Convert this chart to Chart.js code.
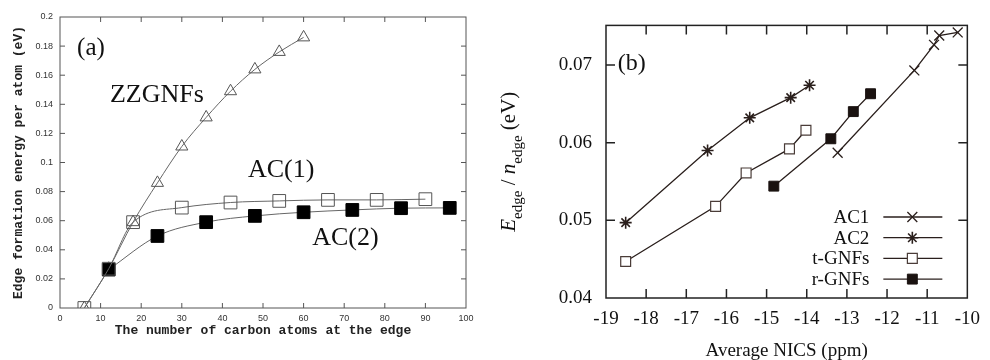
<!DOCTYPE html>
<html>
<head>
<meta charset="utf-8">
<script src="https://cdn.jsdelivr.net/npm/chart.js@4.4.0/dist/chart.umd.min.js"></script>
<style>
  body { margin: 0; background: #fff; width: 990px; height: 360px; overflow: hidden; position: relative; }
  canvas { position: absolute; top: 0; }
  #chartA { left: 0; }
  #chartB { left: 480px; }
</style>
</head>
<body>
<canvas id="chartA" width="480" height="360"></canvas>
<canvas id="chartB" width="510" height="360"></canvas>
<script>
// ---- panel (a): edge formation energy vs number of edge carbons
let zzX  = [6, 12, 18, 24, 30, 36, 42, 48, 54, 60];
let zzY  = [0, 0.027, 0.059, 0.086, 0.111, 0.131, 0.149, 0.164, 0.176, 0.186];
let ac1X = [6, 12, 18, 30, 42, 54, 66, 78, 90];
let ac1Y = [0, 0.027, 0.059, 0.069, 0.0725, 0.0736, 0.0743, 0.0743, 0.0748];
let ac2X = [12, 24, 36, 48, 60, 72, 84, 96];
let ac2Y = [0.0264, 0.0495, 0.059, 0.0633, 0.0658, 0.0674, 0.0686, 0.0688];
let labelsA = ['ZZGNFs', 'AC(1)', 'AC(2)'];

// ---- panel (b): edge energy vs average NICS
let nAc1X = [-13.23, -11.32, -10.83, -10.70, -10.24];
let nAc1Y = [0.0587, 0.0693, 0.0726, 0.0738, 0.0742];
let nAc2X = [-18.51, -16.47, -15.42, -14.40, -13.93];
let nAc2Y = [0.0497, 0.0590, 0.0632, 0.0658, 0.0674];
let nTX   = [-18.51, -16.27, -15.51, -14.43, -14.02];
let nTY   = [0.0447, 0.0518, 0.0561, 0.0592, 0.0616];
let nRX   = [-14.82, -13.40, -12.84, -12.41];
let nRY   = [0.0544, 0.0605, 0.0640, 0.0663];
let labelsB = ['AC1', 'AC2', 't-GNFs', 'r-GNFs'];

function pts(xs, ys) { return xs.map((x, i) => ({ x: x, y: ys[i] })); }
function fmt2(v) { return String(+Number(v).toFixed(3)); }

// box round the plot area with ticks pointing inwards on all four sides
function boxTicks(len, color, width) {
  return {
    id: 'boxTicks',
    beforeDatasetsDraw(chart) {
      const ctx = chart.ctx, a = chart.chartArea;
      const xs = chart.scales.x, ys = chart.scales.y;
      ctx.save();
      ctx.strokeStyle = color;
      ctx.lineWidth = width;
      ctx.beginPath();
      xs.ticks.forEach(t => {
        const px = xs.getPixelForValue(t.value);
        if (px <= a.left + 1 || px >= a.right - 1) return;
        ctx.moveTo(px, a.bottom); ctx.lineTo(px, a.bottom - len);
        ctx.moveTo(px, a.top); ctx.lineTo(px, a.top + len);
      });
      ys.ticks.forEach(t => {
        const py = ys.getPixelForValue(t.value);
        if (py <= a.top + 1 || py >= a.bottom - 1) return;
        ctx.moveTo(a.left, py); ctx.lineTo(a.left + len, py);
        ctx.moveTo(a.right, py); ctx.lineTo(a.right - len, py);
      });
      ctx.stroke();
      ctx.strokeRect(a.left, a.top, a.right - a.left, a.bottom - a.top);
      ctx.restore();
    }
  };
}

// free text placed at data coordinates
function notes(list) {
  return {
    id: 'notes',
    afterDatasetsDraw(chart) {
      const ctx = chart.ctx;
      ctx.save();
      ctx.fillStyle = '#111';
      ctx.textBaseline = 'alphabetic';
      list.forEach(n => {
        ctx.font = n.font;
        ctx.fillText(n.text, chart.scales.x.getPixelForValue(n.x), chart.scales.y.getPixelForValue(n.y));
      });
      ctx.restore();
    }
  };
}

const serif = '"Liberation Serif", "Times New Roman", serif';
const mono = '"Liberation Mono", "Courier New", monospace';

let chartA = new Chart(document.getElementById('chartA'), {
  type: 'scatter',
  data: {
    datasets: [
      { label: labelsA[1], data: pts(ac1X, ac1Y), showLine: true, cubicInterpolationMode: 'monotone',
        borderColor: '#666', borderWidth: 1, pointStyle: 'rect', pointRadius: 9,
        pointBackgroundColor: 'rgba(255,255,255,0)', pointBorderColor: '#555', pointBorderWidth: 1 },
      { label: labelsA[2], data: pts(ac2X, ac2Y), showLine: true, cubicInterpolationMode: 'monotone',
        borderColor: '#666', borderWidth: 1, pointStyle: 'rect', pointRadius: 9,
        pointBackgroundColor: '#000', pointBorderColor: '#000', pointBorderWidth: 1 },
      { label: labelsA[0], data: pts(zzX, zzY), showLine: true, cubicInterpolationMode: 'monotone',
        borderColor: '#666', borderWidth: 1, pointStyle: 'triangle', pointRadius: 7,
        pointBackgroundColor: 'rgba(255,255,255,0)', pointBorderColor: '#555', pointBorderWidth: 1 }
    ]
  },
  options: {
    responsive: false,
    animation: false,
    devicePixelRatio: 1,
    layout: { padding: { left: 0, right: 14, top: 17, bottom: 0 } },
    plugins: { legend: { display: false }, tooltip: { enabled: false } },
    scales: {
      x: {
        type: 'linear', min: 0, max: 100,
        grid: { display: false, drawTicks: false }, border: { display: false },
        ticks: { stepSize: 10, padding: 5, maxRotation: 0, color: '#333',
                 font: { family: '"Liberation Sans", Arial, sans-serif', size: 9 } },
        title: { display: true, text: 'The number of carbon atoms at the edge', color: '#222',
                 font: { family: mono, size: 13, weight: 'bold' },
                 padding: { top: 0, bottom: 21 } },
        afterFit(s) { s.height = 52; }
      },
      y: {
        type: 'linear', min: 0, max: 0.2,
        grid: { display: false, drawTicks: false }, border: { display: false },
        ticks: { stepSize: 0.02, padding: 7, color: '#333', callback: fmt2,
                 font: { family: '"Liberation Sans", Arial, sans-serif', size: 9 } },
        title: { display: true, text: 'Edge formation energy per atom (eV)', color: '#222',
                 font: { family: mono, size: 13, weight: 'bold' },
                 padding: { top: 11, bottom: 0 } },
        afterFit(s) { s.width = 60; }
      }
    }
  },
  plugins: [
    boxTicks(5, '#555', 1),
    notes([
      { text: '(a)', x: 4.2, y: 0.174, font: '25px ' + serif },
      { text: labelsA[0], x: 12.3, y: 0.1417, font: '26px ' + serif },
      { text: labelsA[1], x: 46.3, y: 0.0901, font: '26px ' + serif },
      { text: labelsA[2], x: 62.1, y: 0.0433, font: '26px ' + serif }
    ])
  ]
});

// legend of (b): text on the left, line sample with marker on the right
const legendB = {
  id: 'legendB',
  afterDatasetsDraw(chart) {
    const ctx = chart.ctx, a = chart.chartArea;
    chart.data.datasets.forEach((ds, i) => {
      const y = a.bottom - 81 + i * 20.7;
      ctx.save();
      ctx.font = '19px ' + serif;
      ctx.fillStyle = '#111';
      ctx.textAlign = 'right';
      ctx.textBaseline = 'middle';
      ctx.fillText(ds.label, a.right - 98, y + 1);
      ctx.strokeStyle = ds.borderColor;
      ctx.lineWidth = ds.borderWidth;
      ctx.beginPath();
      ctx.moveTo(a.right - 84, y);
      ctx.lineTo(a.right - 25, y);
      ctx.stroke();
      ctx.fillStyle = ds.pointBackgroundColor;
      ctx.strokeStyle = ds.pointBorderColor;
      ctx.lineWidth = ds.pointBorderWidth;
      Chart.helpers.drawPoint(ctx, { pointStyle: ds.pointStyle, radius: ds.pointRadius,
        borderWidth: ds.pointBorderWidth, rotation: 0 }, a.right - 55, y);
      ctx.restore();
    });
  }
};

// y title of (b) with italic symbols and subscripts
const yTitleB = {
  id: 'yTitleB',
  afterDraw(chart) {
    const ctx = chart.ctx, a = chart.chartArea;
    const parts = [
      { t: 'E', f: 'italic 21px ' + serif, dy: 0 },
      { t: 'edge', f: '15px ' + serif, dy: 7 },
      { t: ' / ', f: '21px ' + serif, dy: 0 },
      { t: 'n', f: 'italic 21px ' + serif, dy: 0 },
      { t: 'edge', f: '15px ' + serif, dy: 7 },
      { t: ' (eV)', f: '21px ' + serif, dy: 0 }
    ];
    ctx.save();
    let w = 0;
    parts.forEach(p => { ctx.font = p.f; p.w = ctx.measureText(p.t).width; w += p.w; });
    ctx.translate(35, (a.top + a.bottom) / 2);
    ctx.rotate(-Math.PI / 2);
    ctx.fillStyle = '#111';
    ctx.textBaseline = 'alphabetic';
    let x = -w / 2;
    parts.forEach(p => { ctx.font = p.f; ctx.fillText(p.t, x, p.dy); x += p.w; });
    ctx.restore();
  }
};

const lineB = '#2a1f1c';

let chartB = new Chart(document.getElementById('chartB'), {
  type: 'scatter',
  data: {
    datasets: [
      { label: labelsB[0], data: pts(nAc1X, nAc1Y), showLine: true, borderColor: lineB, borderWidth: 1.3,
        pointStyle: 'crossRot', pointRadius: 7, pointBackgroundColor: lineB, pointBorderColor: lineB, pointBorderWidth: 1.3 },
      { label: labelsB[1], data: pts(nAc2X, nAc2Y), showLine: true, borderColor: lineB, borderWidth: 1.3,
        pointStyle: 'star', pointRadius: 6, pointBackgroundColor: lineB, pointBorderColor: lineB, pointBorderWidth: 1.6 },
      { label: labelsB[2], data: pts(nTX, nTY), showLine: true, borderColor: lineB, borderWidth: 1.3,
        pointStyle: 'rect', pointRadius: 7, pointBackgroundColor: '#fff', pointBorderColor: '#4a3c38', pointBorderWidth: 1.2 },
      { label: labelsB[3], data: pts(nRX, nRY), showLine: true, borderColor: lineB, borderWidth: 1.3,
        pointStyle: 'rect', pointRadius: 7, pointBackgroundColor: '#1a1210', pointBorderColor: '#1a1210', pointBorderWidth: 1 }
    ]
  },
  options: {
    responsive: false,
    animation: false,
    devicePixelRatio: 1,
    layout: { padding: { left: 0, right: 13, top: 17, bottom: 0 } },
    plugins: { legend: { display: false }, tooltip: { enabled: false } },
    scales: {
      x: {
        type: 'linear', min: -19, max: -10,
        grid: { display: false, drawTicks: false }, border: { display: false },
        ticks: { stepSize: 1, padding: 10, maxRotation: 0, color: '#111', font: { family: serif, size: 19 },
                 callback: v => String(v) },
        title: { display: true, text: 'Average NICS (ppm)', color: '#111', font: { family: serif, size: 19 },
                 padding: { top: 0, bottom: -2 } },
        afterFit(s) { s.height = 62; }
      },
      y: {
        type: 'linear', min: 0.04, max: 0.0751,
        grid: { display: false, drawTicks: false }, border: { display: false },
        ticks: { stepSize: 0.01, includeBounds: false, padding: 14, color: '#111',
                 font: { family: serif, size: 19 }, callback: v => Number(v).toFixed(2) },
        afterFit(s) { s.width = 126; }
      }
    }
  },
  plugins: [
    boxTicks(9, '#222', 1.5),
    notes([{ text: '(b)', x: -18.71, y: 0.0694, font: '24px ' + serif }]),
    legendB,
    yTitleB
  ]
});
</script>
</body>
</html>
